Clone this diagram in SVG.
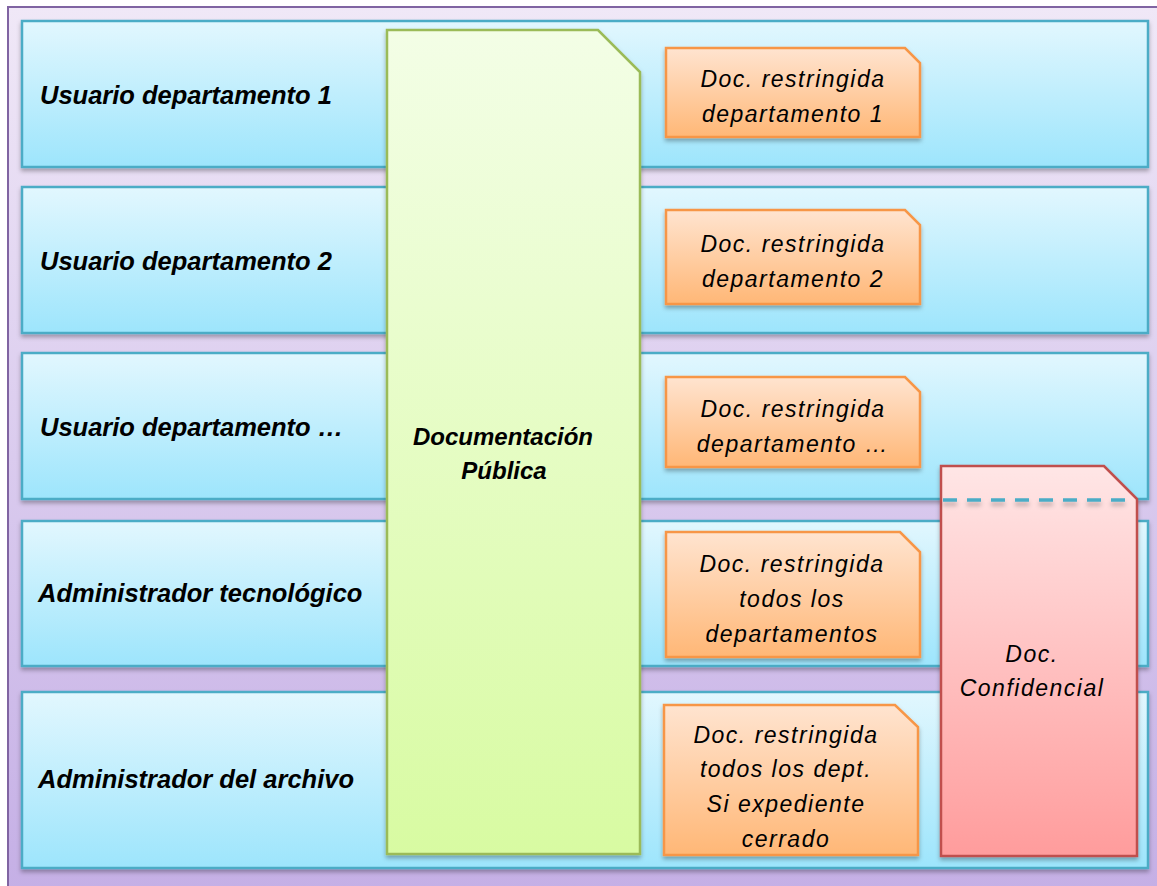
<svg xmlns="http://www.w3.org/2000/svg" width="1157" height="886" viewBox="0 0 1157 886">
<defs>
<linearGradient id="gFrame" x1="0" y1="0" x2="0" y2="1"><stop offset="0" stop-color="#F0E8F7"/><stop offset="1" stop-color="#C4AEE5"/></linearGradient>
<linearGradient id="gRow" x1="0" y1="0" x2="0" y2="1"><stop offset="0" stop-color="#E2F7FE"/><stop offset="1" stop-color="#9DE5FC"/></linearGradient>
<linearGradient id="gGreen" x1="0" y1="0" x2="0" y2="1"><stop offset="0" stop-color="#F3FEE6"/><stop offset="1" stop-color="#D8FBA2"/></linearGradient>
<linearGradient id="gOrange" x1="0" y1="0" x2="0" y2="1"><stop offset="0" stop-color="#FFE4D0"/><stop offset="1" stop-color="#FFB776"/></linearGradient>
<linearGradient id="gRed" x1="0" y1="0" x2="0" y2="1"><stop offset="0" stop-color="#FFE6E6"/><stop offset="1" stop-color="#FF9C9C"/></linearGradient>
<filter id="sh" x="-5%" y="-5%" width="110%" height="115%"><feDropShadow dx="0" dy="3" stdDeviation="2" flood-color="#000" flood-opacity="0.3"/></filter>
<filter id="shl" filterUnits="userSpaceOnUse" x="930" y="490" width="220" height="25"><feDropShadow dx="0" dy="4" stdDeviation="2" flood-color="#000" flood-opacity="0.25"/></filter>
</defs>
<style>
.row{fill:url(#gRow);stroke:#4BACC6;stroke-width:2.5;filter:url(#sh)}
.lbl{font-family:"Liberation Sans",Arial,sans-serif;font-weight:bold;font-style:italic;font-size:25.5px;fill:#000}
.green{fill:url(#gGreen);stroke:#9BBB59;stroke-width:2.5;filter:url(#sh)}
.org{fill:url(#gOrange);stroke:#F79646;stroke-width:2.5;filter:url(#sh)}
.red{fill:url(#gRed);stroke:#C0504D;stroke-width:2.5;filter:url(#sh)}
.t{font-family:"Liberation Sans",Arial,sans-serif;font-style:italic;font-size:23px;letter-spacing:1.5px;fill:#000;text-anchor:middle}
.tb{font-family:"Liberation Sans",Arial,sans-serif;font-weight:bold;font-style:italic;font-size:24px;fill:#000;text-anchor:middle}
</style>
<rect x="0" y="0" width="1157" height="886" fill="#FFFFFF"/>
<rect x="8" y="7" width="1170" height="900" fill="url(#gFrame)" stroke="#8064A2" stroke-width="2"/>

<g id="row1"><rect class="row" x="22" y="21" width="1126" height="146"/><text class="lbl" x="40" y="104">Usuario departamento 1</text></g>
<g id="row2"><rect class="row" x="22" y="187" width="1126" height="146"/><text class="lbl" x="40" y="270">Usuario departamento 2</text></g>
<g id="row3"><rect class="row" x="22" y="353" width="1126" height="146"/><text class="lbl" x="40" y="436">Usuario departamento …</text></g>
<g id="row4"><rect class="row" x="22" y="521" width="1126" height="145"/><text class="lbl" x="38" y="602">Administrador tecnológico</text></g>
<g id="row5"><rect class="row" x="22" y="692" width="1126" height="176"/><text class="lbl" x="38" y="788">Administrador del archivo</text></g>

<g id="publica"><path class="green" d="M387 30 H598 L640 72 V854 H387 Z"/><text class="tb" x="503" y="445">Documentación</text><text class="tb" x="504" y="479">Pública</text></g>

<g id="doc1"><path class="org" d="M666 48 H905 L920 63 V137 H666 Z"/><text class="t" x="793" y="87">Doc. restringida</text><text class="t" x="793" y="122">departamento 1</text></g>
<g id="doc2"><path class="org" d="M666 210 H905 L920 225 V304 H666 Z"/><text class="t" x="793" y="252">Doc. restringida</text><text class="t" x="793" y="287">departamento 2</text></g>
<g id="doc3"><path class="org" d="M666 377 H905 L920 392 V467 H666 Z"/><text class="t" x="793" y="417">Doc. restringida</text><text class="t" x="793" y="452">departamento …</text></g>
<g id="doc4"><path class="org" d="M666 532 H900 L920 552 V657 H666 Z"/><text class="t" x="792" y="572">Doc. restringida</text><text class="t" x="792" y="607">todos los</text><text class="t" x="792" y="642">departamentos</text></g>
<g id="doc5"><path class="org" d="M664 705 H895 L918 727 V855 H664 Z"/><text class="t" x="786" y="743">Doc. restringida</text><text class="t" x="786" y="777">todos los dept.</text><text class="t" x="786" y="812">Si expediente</text><text class="t" x="786" y="847">cerrado</text></g>

<g id="confidencial"><path class="red" d="M941 466 H1104 L1137 499 V856 H941 Z"/><text class="t" x="1032" y="662">Doc.</text><text class="t" x="1032" y="696">Confidencial</text></g>

<g id="connectors"><line x1="943" y1="500" x2="1132" y2="500" stroke="#4BACC6" stroke-width="3.5" stroke-dasharray="14 10" filter="url(#shl)"/></g>
</svg>
